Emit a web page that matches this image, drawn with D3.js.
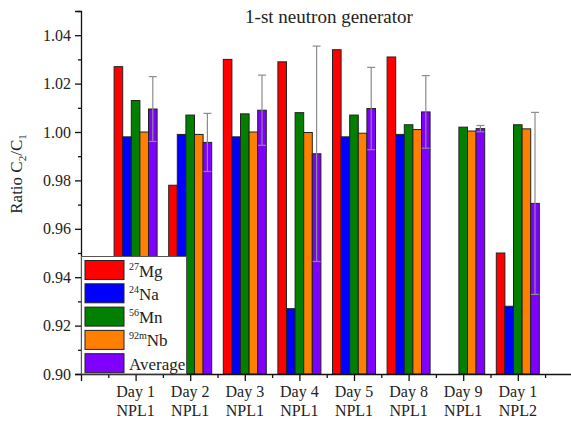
<!DOCTYPE html>
<html>
<head>
<meta charset="utf-8">
<script src="https://d3js.org/d3.v7.min.js"></script>
<style>
    body { margin: 0; background: #fff; }
    svg { display: block; font-family: 'Liberation Serif', 'DejaVu Serif', serif; }
</style>
</head>
<body>
<svg width="571" height="422"></svg>
<script>

/*
*   Data
*/

const categories = [['Day 1', 'NPL1'], ['Day 2', 'NPL1'], ['Day 3', 'NPL1'], ['Day 4', 'NPL1'],
    ['Day 5', 'NPL1'], ['Day 8', 'NPL1'], ['Day 9', 'NPL1'], ['Day 1', 'NPL2']]

const mg27 = [1.027, 0.978, 1.030, 1.029, 1.034, 1.031, null, 0.950]
const na24 = [0.998, 0.999, 0.998, 0.927, 0.998, 0.999, null, 0.928]
const mn56 = [1.013, 1.007, 1.0075, 1.008, 1.007, 1.003, 1.002, 1.003]
const nb92m = [1.000, 0.999, 1.000, 0.9998, 0.9995, 1.001, 1.0004, 1.0013]
const average = [1.0095, 0.9957, 1.009, 0.991, 1.0097, 1.0083, 1.0014, 0.9705]
const averageErr = [0.0134, 0.012, 0.0145, 0.0445, 0.017, 0.015, 0.0013, 0.0376]

const yTicks = [0.90, 0.92, 0.94, 0.96, 0.98, 1.00, 1.02, 1.04]
const yMinorTicks = [0.91, 0.93, 0.95, 0.97, 0.99, 1.01, 1.03, 1.05]


/*
*   Series styling
*/

const SERIES = [
    { label: 'Mg', sup: '27', values: mg27, color: '#ff0000' },
    { label: 'Na', sup: '24', values: na24, color: '#0000ff' },
    { label: 'Mn', sup: '56', values: mn56, color: '#007f00' },
    { label: 'Nb', sup: '92m', values: nb92m, color: '#ff8000' },
    { label: 'Average', sup: '', values: average, color: '#8000ff' },
]


/*
*   Constants
*/

const LEFT = 81
const BOTTOM = 374
const TOP = 11
const BAR_W = 8.6

const svg = d3.select('svg')

const x = d3.scaleLinear().domain([0, 9]).range([LEFT, LEFT + 9 * 54.6])
const y = d3.scaleLinear().domain([0.90, 1.05]).range([BOTTOM, TOP])


/*
*   Bars
*/

SERIES.forEach((s, si) => {
    svg.append('g')
    .selectAll('rect')
    .data(s.values.map((v, i) => ({ v, i })).filter(d => d.v !== null))
    .enter()
    .append('rect')
    .attr('x', d => x(d.i + 1) + (si - 2.5) * BAR_W)
    .attr('y', d => y(d.v))
    .attr('width', BAR_W)
    .attr('height', d => y(0.90) - y(d.v))
    .attr('fill', s.color)
    .attr('stroke', '#222')
    .attr('stroke-width', 1)
})


/*
*   Error bars on the average
*/

const err = svg.append('g')
.attr('stroke', '#8c8c8c')
.attr('stroke-width', 1.2)

average.forEach((v, i) => {
    const cx = x(i + 1) + 2 * BAR_W
    const lo = y(v - averageErr[i])
    const hi = y(v + averageErr[i])
    err.append('line').attr('x1', cx).attr('x2', cx).attr('y1', lo).attr('y2', hi)
    err.append('line').attr('x1', cx - 4).attr('x2', cx + 4).attr('y1', lo).attr('y2', lo)
    err.append('line').attr('x1', cx - 4).attr('x2', cx + 4).attr('y1', hi).attr('y2', hi)
})


/*
*   Axes
*/

const yAxis = svg.append('g')
.attr('transform', `translate(${LEFT},0)`)
.call(d3.axisLeft(y).tickValues(yTicks).tickSize(6).tickPadding(4).tickFormat(d3.format('.2f')))

yAxis.selectAll('.tick text')
.attr('font-size', 16)
.attr('font-family', 'Liberation Serif')
.attr('fill', '#222')

svg.append('g')
.attr('transform', `translate(${LEFT},0)`)
.call(d3.axisLeft(y).tickValues(yMinorTicks).tickSize(3).tickFormat(''))
.select('.domain').remove()

const majorX = d3.range(0, 9)
const minorX = d3.range(0.5, 9, 1)

svg.append('g')
.attr('transform', `translate(0,${BOTTOM})`)
.call(d3.axisBottom(x).tickValues(majorX).tickSize(7).tickSizeOuter(0).tickFormat(''))

svg.append('g')
.attr('transform', `translate(0,${BOTTOM})`)
.call(d3.axisBottom(x).tickValues(minorX).tickSize(4).tickFormat(''))
.select('.domain').remove()

svg.selectAll('.domain, .tick line')
.attr('stroke', '#111')
.attr('stroke-width', 1.3)

const xLabels = svg.append('g')
.attr('font-size', 16)
.attr('fill', '#222')
.attr('text-anchor', 'middle')

categories.forEach((c, i) => {
    const t = xLabels.append('text')
    t.append('tspan').attr('x', x(i + 1)).attr('y', 397).text(c[0])
    t.append('tspan').attr('x', x(i + 1)).attr('y', 416).text(c[1])
})


/*
*   Axis title and chart title
*/

const yTitle = svg.append('text')
.attr('transform', 'translate(22,174) rotate(-90)')
.attr('text-anchor', 'middle')
.attr('font-size', 17)
.attr('fill', '#222')

yTitle.append('tspan').text('Ratio C')
yTitle.append('tspan').attr('font-size', 11).attr('dy', 4).text('2')
yTitle.append('tspan').attr('dy', -4).text('/C')
yTitle.append('tspan').attr('font-size', 11).attr('dy', 4).text('1')

svg.append('text')
.attr('x', 329)
.attr('y', 23)
.attr('text-anchor', 'middle')
.attr('font-size', 19)
.attr('fill', '#222')
.text('1-st neutron generator')


/*
*   Legend
*/

const legend = svg.append('g')

legend.append('rect')
.attr('x', 81.5)
.attr('y', 256.5)
.attr('width', 105)
.attr('height', BOTTOM - 256.5)
.attr('fill', '#fff')
.attr('stroke', '#555')
.attr('stroke-width', 1)

SERIES.forEach((s, i) => {
    const top = 260.5 + i * 23.3
    legend.append('rect')
    .attr('x', 85)
    .attr('y', top)
    .attr('width', 39)
    .attr('height', 19)
    .attr('fill', s.color)
    .attr('stroke', '#222')

    const t = legend.append('text')
    .attr('x', 129)
    .attr('y', top + 16)
    .attr('font-size', 17)
    .attr('fill', '#222')

    if (s.sup) t.append('tspan').attr('font-size', 10).attr('dy', -7).text(s.sup)
    t.append('tspan').attr('dy', s.sup ? 7 : 0).text(s.label)
})

</script>
</body>
</html>
